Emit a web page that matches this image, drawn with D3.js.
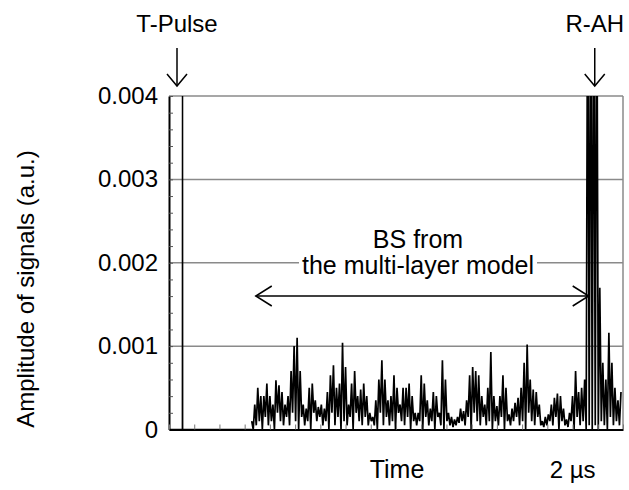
<!DOCTYPE html>
<html>
<head>
<meta charset="utf-8">
<script src="https://cdn.jsdelivr.net/npm/d3@7"></script>
<style>
  body { margin: 0; background: #fff; }
  svg { display: block; font-family: "Liberation Sans", Arial, sans-serif; }
</style>
</head>
<body>
<div class="graph"></div>
<script>
// amplitudes are kept in units of 1e-4 a.u. (values above 40 run off the top)
const ampUnit = 1e-4;

// y axis
const yTicks = [0, 0.001, 0.002, 0.003, 0.004];
const yTickLabels = ["0", "0.001", "0.002", "0.003", "0.004"];
const yGrid = [0.001, 0.002, 0.003, 0.004];

// transmitted pulse (time in µs)
const pulseTime = [0, 0.066, 0.067, 0.068, 0.41];
const pulseAmp = [0, 0, 60, 0, 0];

// backscatter + R-AH echo, one sample every echoStep µs from echoStart
const echoStart = 0.41;
const echoStep = 0.0075;
const echoAmp = [
  1, 0, 3, 0.5, 5, 1, 4, 0, 4, 1.5,
  5.5, 0.5, 4, 1, 3, 0, 5.9, 2, 5.3, 1,
  4.5, 0.5, 3, 1.5, 4, 0.5, 7, 2, 10, 1,
  11, 0, 7, 1.5, 3, 0.5, 2.5, 1, 5, 0,
  5.5, 2, 3.5, 1, 2.7, 1.5, 3, 0.5, 2.5, 1,
  4.5, 0, 6.5, 2, 7.7, 0.5, 5, 1.5, 5.5, 0,
  10.4, 1, 7.5, 0.5, 3, 1.5, 5.5, 0, 7, 2,
  4, 1, 4.8, 0.5, 5.5, 1.5, 4, 0.5, 2, 1,
  1.5, 0.5, 3.5, 0, 6, 2, 8.3, 0.5, 6, 1.5,
  3.5, 0.5, 4, 1, 6.5, 0, 5, 2, 3, 1,
  5, 0.5, 5, 1.5, 5.5, 0, 4, 1, 2, 0.5,
  2, 1, 6.5, 0, 5.5, 1.5, 3.5, 0.5, 2.5, 1,
  4.5, 0, 4, 1.5, 2, 0.5, 8.3, 0, 6, 1,
  2, 0.5, 1.5, 0.3, 1.2, 0.5, 1.5, 0.8, 2.5, 1,
  2.2, 0.5, 3.5, 1.5, 6.5, 0, 7.5, 2, 7, 1,
  6.5, 0.5, 4, 1.5, 3, 0.5, 5, 1, 9.3, 0,
  4, 1, 2.8, 0.5, 4, 1.5, 6.5, 0, 5, 1,
  1.8, 0.5, 2.5, 1, 3.2, 1.5, 3.8, 0.5, 5, 1,
  8, 0, 10.2, 2, 6, 1, 4.8, 0.5, 4.5, 1.5,
  3, 0.5, 1, 0.3, 1.5, 0.5, 1.8, 1, 3, 0.5,
  3.8, 1.5, 4.3, 0, 4, 1, 2.5, 0.5, 1.2, 0.3,
  2, 1, 4, 0, 7, 1.5, 4.5, 0.5, 5, 1,
  6, 0, 60, 0.5, 60, 0, 60, 0.5, 60, 0,
  17, 1, 8, 0.5, 6, 0, 11.6, 1.5, 8, 0.5,
  5, 1, 3.5, 0.5, 4.5
];

// annotations
const pulseLabel = "T-Pulse";
const echoLabel = "R-AH";
const bsLines = ["BS from", "the multi-layer model"];
const bsFrom = 0.43, bsTo = 2.08;   // ends of the double arrow (µs)
const echoLabelTime = 2.11;

var width = 629, height = 490;
var plot = {left: 169, right: 623, top: 96, bottom: 429.5};

var svg = d3.select("div.graph").append("svg")
    .attr("width", width)
    .attr("height", height);

var x = d3.scaleLinear().domain([0, 2.25]).range([plot.left, plot.right]);
var y = d3.scaleLinear().domain([0, 0.004]).range([plot.bottom, plot.top]);

// gridlines + frame
svg.selectAll("line.grid")
  .data(yGrid)
  .enter().append("line")
    .attr("class", "grid")
    .attr("x1", plot.left).attr("x2", plot.right)
    .attr("y1", d => y(d)).attr("y2", d => y(d))
    .attr("stroke", "#8a8a8a").attr("stroke-width", 1.5);

svg.append("line")
    .attr("x1", plot.right).attr("x2", plot.right)
    .attr("y1", y(0)).attr("y2", y(0.004))
    .attr("stroke", "#8a8a8a").attr("stroke-width", 1.5);

// signals
svg.append("clipPath").attr("id", "clip")
  .append("rect")
    .attr("x", plot.left).attr("y", plot.top)
    .attr("width", plot.right - plot.left).attr("height", plot.bottom - plot.top);

var pulseData = pulseTime.map((t, i) => ({t: t, v: pulseAmp[i] * ampUnit}));
var echoData = echoAmp.map((a, i) => ({t: echoStart + i * echoStep, v: a * ampUnit}));

var line = d3.line()
    .x(d => x(d.t))
    .y(d => y(d.v));

var sig = svg.append("g").attr("clip-path", "url(#clip)");

sig.append("path")
    .datum(pulseData)
    .attr("d", line)
    .attr("fill", "none")
    .attr("stroke", "#000")
    .attr("stroke-width", 1.4);

sig.append("path")
    .datum(echoData)
    .attr("d", line)
    .attr("fill", "none")
    .attr("stroke", "#000")
    .attr("stroke-width", 1.7)
    .attr("stroke-linejoin", "miter")
    .attr("stroke-miterlimit", 2);

// axes
svg.append("g")
    .attr("transform", "translate(" + plot.left + ",0)")
    .call(d3.axisRight(y).tickValues(d3.range(0, 0.00401, 0.0002)).tickSize(4).tickSizeOuter(0).tickFormat(""))
    .call(g => g.select(".domain").attr("stroke-width", 2))
    .call(g => g.selectAll(".tick line").attr("stroke", "#555"));

svg.append("g")
    .attr("transform", "translate(0," + plot.bottom + ")")
    .call(d3.axisTop(x).tickValues(d3.range(0, 2.251, 0.125)).tickSize(5).tickSizeOuter(0).tickFormat(""))
    .call(g => g.select(".domain").attr("stroke-width", 2))
    .call(g => g.selectAll(".tick line").attr("stroke", "#777"));

// tick labels
svg.selectAll("text.ytick")
  .data(yTicks)
  .enter().append("text")
    .attr("class", "ytick")
    .attr("x", 158)
    .attr("y", d => y(d) + 8)
    .attr("text-anchor", "end")
    .attr("font-size", 24)
    .text((d, i) => yTickLabels[i]);

// axis titles
svg.append("text")
    .attr("transform", "translate(34,289) rotate(-90)")
    .attr("text-anchor", "middle")
    .attr("font-size", 24)
    .text("Amplitude of signals (a.u.)");

svg.append("text")
    .attr("x", 397).attr("y", 478)
    .attr("text-anchor", "middle")
    .attr("font-size", 25)
    .text("Time");

svg.append("text")
    .attr("x", x(2)).attr("y", 478)
    .attr("text-anchor", "middle")
    .attr("font-size", 24)
    .text("2 µs");

// top labels with down arrows
function downArrow(px) {
  var g = svg.append("g").attr("stroke", "#000").attr("stroke-width", 1.5).attr("fill", "none");
  g.append("line").attr("x1", px).attr("x2", px).attr("y1", 48).attr("y2", 86);
  g.append("path").attr("d", "M" + (px - 10) + ",74 L" + px + ",86 L" + (px + 10) + ",74");
}

svg.append("text")
    .attr("x", 177).attr("y", 32)
    .attr("text-anchor", "middle")
    .attr("font-size", 24)
    .text(pulseLabel);
downArrow(177);

svg.append("text")
    .attr("x", x(echoLabelTime)).attr("y", 32)
    .attr("text-anchor", "middle")
    .attr("font-size", 24)
    .text(echoLabel);
downArrow(x(echoLabelTime));

// BS annotation
var cx = 418;
svg.append("text")
    .attr("x", cx).attr("y", 248)
    .attr("text-anchor", "middle")
    .attr("font-size", 25)
    .text(bsLines[0]);

var t2 = svg.append("text")
    .attr("x", cx).attr("y", 274)
    .attr("text-anchor", "middle")
    .attr("font-size", 25)
    .text(bsLines[1]);
var bb = t2.node().getBBox();
svg.insert("rect", () => t2.node())
    .attr("x", bb.x - 3).attr("y", bb.y)
    .attr("width", bb.width + 6).attr("height", bb.height)
    .attr("fill", "#fff");

var ay = 296;
var ag = svg.append("g").attr("stroke", "#000").attr("stroke-width", 1.5).attr("fill", "none");
ag.append("line").attr("x1", x(bsFrom)).attr("x2", x(bsTo)).attr("y1", ay).attr("y2", ay);
ag.append("path").attr("d", "M" + (x(bsFrom) + 16) + "," + (ay - 10) + " L" + x(bsFrom) + "," + ay + " L" + (x(bsFrom) + 16) + "," + (ay + 10));
ag.append("path").attr("d", "M" + (x(bsTo) - 16) + "," + (ay - 10) + " L" + x(bsTo) + "," + ay + " L" + (x(bsTo) - 16) + "," + (ay + 10));
</script>
</body>
</html>
